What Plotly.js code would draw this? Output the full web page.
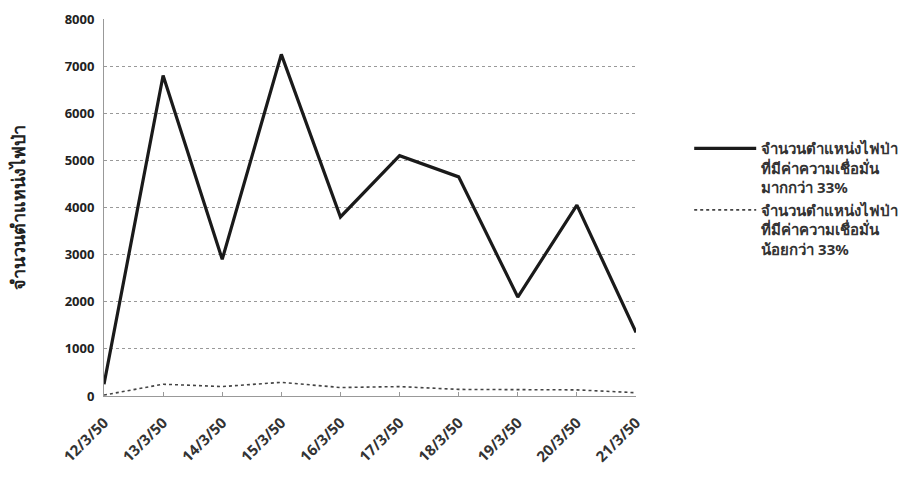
<!DOCTYPE html>
<html>
<head>
<meta charset="utf-8">
<script src="https://cdn.plot.ly/plotly-3.0.1.min.js"></script>
<style>html,body{margin:0;padding:0;background:#fff;}#chart{width:915px;height:477px;}</style>
</head>
<body>
<div id="chart"></div>
<script>
var dates = ["12/3/50","13/3/50","14/3/50","15/3/50","16/3/50","17/3/50","18/3/50","19/3/50","20/3/50","21/3/50"];
var above33 = [250, 6800, 2900, 7250, 3800, 5100, 4650, 2100, 4050, 1350];
var below33 = [20, 250, 200, 290, 180, 200, 140, 130, 130, 70];
var nameAbove = "จำนวนตำแหน่งไฟป่า<br>ที่มีค่าความเชื่อมั่น<br>มากกว่า 33%";
var nameBelow = "จำนวนตำแหน่งไฟป่า<br>ที่มีค่าความเชื่อมั่น<br>น้อยกว่า 33%";
var yTitle = "จำนวนตำแหน่งไฟป่า";
var yTicks = [0,1000,2000,3000,4000,5000,6000,7000,8000];

var font = "Noto Sans, DejaVu Sans, sans-serif";
var traces = [
  {x: dates, y: above33, name: nameAbove, type: "scatter", mode: "lines",
   line: {color: "#1a1a1a", width: 3.2}},
  {x: dates, y: below33, name: nameBelow, type: "scatter", mode: "lines",
   line: {color: "#444", width: 1.6, dash: "dot"}}
];
var layout = {
  width: 915, height: 477,
  paper_bgcolor: "#fff", plot_bgcolor: "#fff",
  margin: {l: 104, r: 279, t: 19, b: 81},
  font: {family: font, color: "#222", size: 12},
  showlegend: true,
  legend: {x: 1.1, y: 0.7, xanchor: "left", yanchor: "top", valign: "top",
           font: {family: font, size: 15, color: "#333", weight: "bold"},
           itemwidth: 62, bgcolor: "rgba(0,0,0,0)"},
  xaxis: {type: "category", range: [0, 9], showgrid: false,
          showline: true, linecolor: "#999", linewidth: 1,
          ticks: "inside", ticklen: 4, tickcolor: "#999",
          tickangle: -45, ticklabelstandoff: 11,
          tickfont: {family: font, size: 15, color: "#333", weight: "bold"},
          zeroline: false},
  yaxis: {range: [0, 8000], tickvals: yTicks, ticktext: yTicks.map(String),
          showgrid: true, gridcolor: "#999", griddash: "dot", gridwidth: 1,
          showline: true, linecolor: "#999", linewidth: 1,
          ticks: "", ticklen: 0, zeroline: false, ticklabelstandoff: 6,
          tickfont: {family: font, size: 13, color: "#222", weight: "bold"},
          title: {text: yTitle, font: {family: font, size: 18, color: "#222", weight: "bold"}, standoff: 34}}
};
Plotly.newPlot("chart", traces, layout, {displayModeBar: false, staticPlot: true});
</script>
</body>
</html>
